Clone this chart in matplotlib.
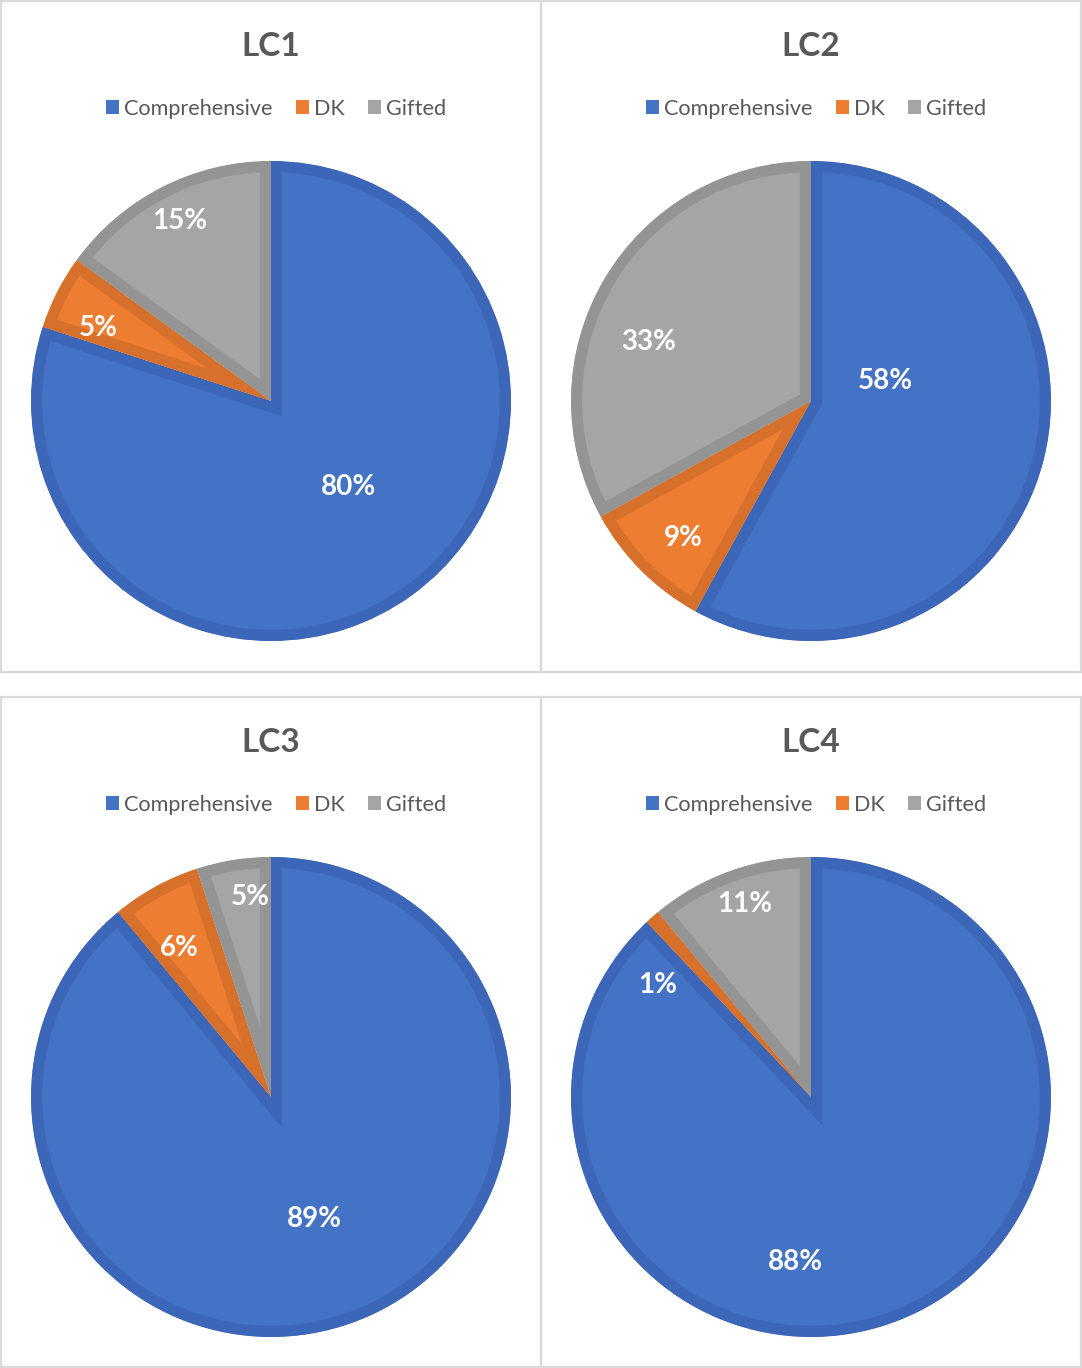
import numpy as np
import matplotlib
matplotlib.use("Agg")
from matplotlib import pyplot as plt
from matplotlib.patches import Patch, Rectangle

plt.rcParams['font.family'] = ['Lato', 'DejaVu Sans']

# data
categories = ['Comprehensive', 'DK', 'Gifted']
titles = ['LC1', 'LC2', 'LC3', 'LC4']
lc1 = [80, 5, 15]
lc2 = [58, 9, 33]
lc3 = [89, 6, 5]
lc4 = [88, 1, 11]
series = [lc1, lc2, lc3, lc4]

# label placement (polar: angle in degrees, fraction of radius), Excel "best fit" look
label_pos = [
    [(-48, 0.48), (157, 0.78), (117, 0.84)],
    [(15, 0.32), (-133, 0.78), (160, 0.72)],
    [(-70.6, 0.54), (121.5, 0.73), (96, 0.84)],
    [(-95.5, 0.69), (143.8, 0.79), (109, 0.85)],
]

fills = ['#4472C4', '#ED7D31', '#A5A5A5']
edges = ['#3C67B8', '#D6702B', '#949494']
text_col = '#595959'
border = '#D9D9D9'

W, H = 1082, 1368
fig = plt.figure(figsize=(W / 100, H / 100), dpi=100)

# panels: (left, top, right, bottom) in pixels
panels = [(1, 1, 541, 672), (541, 1, 1081, 672),
          (1, 697, 541, 1367), (541, 697, 1081, 1367)]

R = 240  # pie radius px
for i, (l, t, r, b) in enumerate(panels):
    fig.patches.append(Rectangle((l / W, 1 - b / H), (r - l) / W, (b - t) / H,
                                 transform=fig.transFigure, fill=False,
                                 edgecolor=border, linewidth=1.6))
    cx = (l + r) / 2
    cy = t + 400
    fig.text(cx / W, 1 - (t + 45) / H, titles[i], ha='center', va='center',
             fontsize=24, fontweight='bold', color=text_col)

    handles = [Patch(facecolor=c, edgecolor='none') for c in fills]
    fig.legend(handles, categories, loc='center',
               bbox_to_anchor=((cx + 5) / W, 1 - (t + 108) / H), ncol=3, frameon=False,
               fontsize=15.6, labelcolor=text_col, handlelength=0.6, handleheight=0.6,
               handletextpad=0.25, columnspacing=1.05)

    size = 600
    ax = fig.add_axes([(cx - size / 2) / W, 1 - (cy + size / 2) / H, size / W, size / H])
    lim = size / 2 / R
    wedges, texts, autotexts = ax.pie(series[i], colors=fills, startangle=90,
                                      counterclock=False, radius=1,
                                      autopct=lambda p: f'{p:.0f}%',
                                      textprops=dict(color='white', fontsize=20,
                                                     fontweight='bold'))
    # inner border: stroke clipped to the wedge itself
    for w, ec in zip(wedges, edges):
        w.set_edgecolor(ec)
        w.set_linewidth(16)
        w.set_joinstyle('miter')
        w.set_clip_on(True)
        w.set_clip_path(w)
    for txt, (ang, fr) in zip(autotexts, label_pos[i]):
        a = np.deg2rad(ang)
        txt.set_position((fr * np.cos(a), fr * np.sin(a)))
        txt.set_ha('center')
        txt.set_va('center')
    ax.set_xlim(-lim, lim)
    ax.set_ylim(-lim, lim)
    ax.set_aspect('equal')
    ax.axis('off')

fig.savefig('out.png', dpi=100, facecolor='white')
